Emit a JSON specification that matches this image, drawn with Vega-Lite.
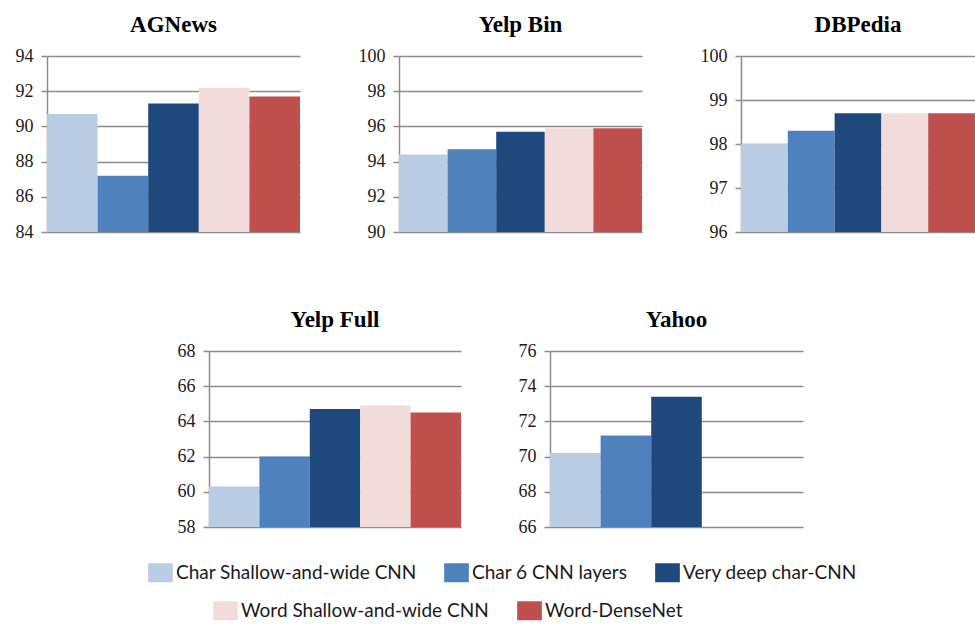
{
  "$schema": "https://vega.github.io/schema/vega-lite/v6.json",
  "padding": {"left": 15, "top": 14, "right": 0, "bottom": 0},
  "background": "white",
  "data": {"values": [
    {"dataset": "AGNews", "model": "Char Shallow-and-wide CNN", "group": "char", "acc": 90.7},
    {"dataset": "AGNews", "model": "Char 6 CNN layers", "group": "char", "acc": 87.2},
    {"dataset": "AGNews", "model": "Very deep char-CNN", "group": "char", "acc": 91.3},
    {"dataset": "AGNews", "model": "Word Shallow-and-wide CNN", "group": "word", "acc": 92.2},
    {"dataset": "AGNews", "model": "Word-DenseNet", "group": "word", "acc": 91.7},
    {"dataset": "Yelp Bin", "model": "Char Shallow-and-wide CNN", "group": "char", "acc": 94.4},
    {"dataset": "Yelp Bin", "model": "Char 6 CNN layers", "group": "char", "acc": 94.7},
    {"dataset": "Yelp Bin", "model": "Very deep char-CNN", "group": "char", "acc": 95.7},
    {"dataset": "Yelp Bin", "model": "Word Shallow-and-wide CNN", "group": "word", "acc": 95.9},
    {"dataset": "Yelp Bin", "model": "Word-DenseNet", "group": "word", "acc": 95.9},
    {"dataset": "DBPedia", "model": "Char Shallow-and-wide CNN", "group": "char", "acc": 98.0},
    {"dataset": "DBPedia", "model": "Char 6 CNN layers", "group": "char", "acc": 98.3},
    {"dataset": "DBPedia", "model": "Very deep char-CNN", "group": "char", "acc": 98.7},
    {"dataset": "DBPedia", "model": "Word Shallow-and-wide CNN", "group": "word", "acc": 98.7},
    {"dataset": "DBPedia", "model": "Word-DenseNet", "group": "word", "acc": 98.7},
    {"dataset": "Yelp Full", "model": "Char Shallow-and-wide CNN", "group": "char", "acc": 60.3},
    {"dataset": "Yelp Full", "model": "Char 6 CNN layers", "group": "char", "acc": 62.0},
    {"dataset": "Yelp Full", "model": "Very deep char-CNN", "group": "char", "acc": 64.7},
    {"dataset": "Yelp Full", "model": "Word Shallow-and-wide CNN", "group": "word", "acc": 64.9},
    {"dataset": "Yelp Full", "model": "Word-DenseNet", "group": "word", "acc": 64.5},
    {"dataset": "Yahoo", "model": "Char Shallow-and-wide CNN", "group": "char", "acc": 70.2},
    {"dataset": "Yahoo", "model": "Char 6 CNN layers", "group": "char", "acc": 71.2},
    {"dataset": "Yahoo", "model": "Very deep char-CNN", "group": "char", "acc": 73.4}
  ]},
  "config": {
    "view": {"stroke": null},
    "axis": {"domainColor": "#8c8c8c", "gridColor": "#8c8c8c", "tickColor": "#8c8c8c", "gridWidth": 1.5, "domainWidth": 1.5, "tickWidth": 1.5, "labelFont": "Liberation Serif", "labelFontSize": 18, "labelColor": "#1a1a1a", "tickSize": 6, "labelPadding": 8},
    "title": {"font": "Liberation Serif", "fontSize": 23, "fontWeight": "bold", "color": "#000000", "anchor": "middle", "offset": 10},
    "legend": {"labelFont": "Lato", "labelFontSize": 19, "labelLimit": 0, "labelColor": "#1a1a1a", "symbolStrokeWidth": 0, "symbolOpacity": 1, "padding": 0}
  },
  "center": true,
  "spacing": 68,
  "vconcat": [
    {
      "bounds": "flush",
      "spacing": 99,
      "hconcat": [
        {
          "title": "AGNews",
          "width": 253, "height": 176,
          "transform": [{"filter": "datum.dataset === 'AGNews'"}],
          "encoding": {
            "x": {"field": "model", "type": "nominal", "scale": {"domain": ["Char Shallow-and-wide CNN", "Char 6 CNN layers", "Very deep char-CNN", "Word Shallow-and-wide CNN", "Word-DenseNet"], "paddingInner": 0, "paddingOuter": 0}, "axis": null},
            "y": {"field": "acc", "type": "quantitative", "scale": {"domain": [84, 94], "nice": false, "zero": false}, "axis": {"values": [84, 86, 88, 90, 92, 94], "title": null}}
          },
          "layer": [
            {"transform": [{"filter": "datum.group === 'char'"}], "mark": {"type": "bar", "clip": true},
             "encoding": {"fill": {"field": "model", "type": "nominal", "scale": {"domain": ["Char Shallow-and-wide CNN", "Char 6 CNN layers", "Very deep char-CNN"], "range": ["#b9cde5", "#4f81bd", "#1f497d"]},
               "legend": {"orient": "none", "legendX": 104, "legendY": 507, "direction": "horizontal", "title": null, "symbolType": "M-1.3,-1H1.3V1H-1.3Z", "symbolSize": 361, "columnPadding": 27, "labelOffset": 6}}}},
            {"transform": [{"filter": "datum.group === 'word'"}], "mark": {"type": "bar", "clip": true},
             "encoding": {"color": {"field": "model", "type": "nominal", "scale": {"domain": ["Word Shallow-and-wide CNN", "Word-DenseNet"], "range": ["#f2dcdb", "#c0504d"]},
               "legend": {"orient": "none", "legendX": 169, "legendY": 545, "direction": "horizontal", "title": null, "symbolType": "M-1.3,-1H1.3V1H-1.3Z", "symbolSize": 361, "columnPadding": 28, "labelOffset": 6}}}}
          ]
        },
        {
          "title": "Yelp Bin",
          "width": 243, "height": 176,
          "transform": [{"filter": "datum.dataset === 'Yelp Bin'"}],
          "encoding": {
            "x": {"field": "model", "type": "nominal", "scale": {"domain": ["Char Shallow-and-wide CNN", "Char 6 CNN layers", "Very deep char-CNN", "Word Shallow-and-wide CNN", "Word-DenseNet"], "paddingInner": 0, "paddingOuter": 0}, "axis": null},
            "y": {"field": "acc", "type": "quantitative", "scale": {"domain": [90, 100], "nice": false, "zero": false}, "axis": {"values": [90, 92, 94, 96, 98, 100], "title": null}}
          },
          "layer": [
            {"transform": [{"filter": "datum.group === 'char'"}], "mark": {"type": "bar", "clip": true},
             "encoding": {"fill": {"field": "model", "type": "nominal", "scale": {"domain": ["Char Shallow-and-wide CNN", "Char 6 CNN layers", "Very deep char-CNN"], "range": ["#b9cde5", "#4f81bd", "#1f497d"]},
               "legend": {"orient": "none", "legendX": 104, "legendY": 507, "direction": "horizontal", "title": null, "symbolType": "M-1.3,-1H1.3V1H-1.3Z", "symbolSize": 361, "columnPadding": 27, "labelOffset": 6}}}},
            {"transform": [{"filter": "datum.group === 'word'"}], "mark": {"type": "bar", "clip": true},
             "encoding": {"color": {"field": "model", "type": "nominal", "scale": {"domain": ["Word Shallow-and-wide CNN", "Word-DenseNet"], "range": ["#f2dcdb", "#c0504d"]},
               "legend": {"orient": "none", "legendX": 169, "legendY": 545, "direction": "horizontal", "title": null, "symbolType": "M-1.3,-1H1.3V1H-1.3Z", "symbolSize": 361, "columnPadding": 28, "labelOffset": 6}}}}
          ]
        },
        {
          "title": "DBPedia",
          "width": 234, "height": 176,
          "transform": [{"filter": "datum.dataset === 'DBPedia'"}],
          "encoding": {
            "x": {"field": "model", "type": "nominal", "scale": {"domain": ["Char Shallow-and-wide CNN", "Char 6 CNN layers", "Very deep char-CNN", "Word Shallow-and-wide CNN", "Word-DenseNet"], "paddingInner": 0, "paddingOuter": 0}, "axis": null},
            "y": {"field": "acc", "type": "quantitative", "scale": {"domain": [96, 100], "nice": false, "zero": false}, "axis": {"values": [96, 97, 98, 99, 100], "title": null}}
          },
          "layer": [
            {"transform": [{"filter": "datum.group === 'char'"}], "mark": {"type": "bar", "clip": true},
             "encoding": {"fill": {"field": "model", "type": "nominal", "scale": {"domain": ["Char Shallow-and-wide CNN", "Char 6 CNN layers", "Very deep char-CNN"], "range": ["#b9cde5", "#4f81bd", "#1f497d"]},
               "legend": {"orient": "none", "legendX": 104, "legendY": 507, "direction": "horizontal", "title": null, "symbolType": "M-1.3,-1H1.3V1H-1.3Z", "symbolSize": 361, "columnPadding": 27, "labelOffset": 6}}}},
            {"transform": [{"filter": "datum.group === 'word'"}], "mark": {"type": "bar", "clip": true},
             "encoding": {"color": {"field": "model", "type": "nominal", "scale": {"domain": ["Word Shallow-and-wide CNN", "Word-DenseNet"], "range": ["#f2dcdb", "#c0504d"]},
               "legend": {"orient": "none", "legendX": 169, "legendY": 545, "direction": "horizontal", "title": null, "symbolType": "M-1.3,-1H1.3V1H-1.3Z", "symbolSize": 361, "columnPadding": 28, "labelOffset": 6}}}}
          ]
        }
      ]
    },
    {
      "bounds": "flush",
      "spacing": 89,
      "hconcat": [
        {
          "title": "Yelp Full",
          "width": 252, "height": 176,
          "transform": [{"filter": "datum.dataset === 'Yelp Full'"}],
          "encoding": {
            "x": {"field": "model", "type": "nominal", "scale": {"domain": ["Char Shallow-and-wide CNN", "Char 6 CNN layers", "Very deep char-CNN", "Word Shallow-and-wide CNN", "Word-DenseNet"], "paddingInner": 0, "paddingOuter": 0}, "axis": null},
            "y": {"field": "acc", "type": "quantitative", "scale": {"domain": [58, 68], "nice": false, "zero": false}, "axis": {"values": [58, 60, 62, 64, 66, 68], "title": null}}
          },
          "layer": [
            {"transform": [{"filter": "datum.group === 'char'"}], "mark": {"type": "bar", "clip": true},
             "encoding": {"fill": {"field": "model", "type": "nominal", "scale": {"domain": ["Char Shallow-and-wide CNN", "Char 6 CNN layers", "Very deep char-CNN"], "range": ["#b9cde5", "#4f81bd", "#1f497d"]},
               "legend": {"orient": "none", "legendX": 104, "legendY": 507, "direction": "horizontal", "title": null, "symbolType": "M-1.3,-1H1.3V1H-1.3Z", "symbolSize": 361, "columnPadding": 27, "labelOffset": 6}}}},
            {"transform": [{"filter": "datum.group === 'word'"}], "mark": {"type": "bar", "clip": true},
             "encoding": {"color": {"field": "model", "type": "nominal", "scale": {"domain": ["Word Shallow-and-wide CNN", "Word-DenseNet"], "range": ["#f2dcdb", "#c0504d"]},
               "legend": {"orient": "none", "legendX": 169, "legendY": 545, "direction": "horizontal", "title": null, "symbolType": "M-1.3,-1H1.3V1H-1.3Z", "symbolSize": 361, "columnPadding": 28, "labelOffset": 6}}}}
          ]
        },
        {
          "title": "Yahoo",
          "width": 253, "height": 176,
          "transform": [{"filter": "datum.dataset === 'Yahoo'"}],
          "encoding": {
            "x": {"field": "model", "type": "nominal", "scale": {"domain": ["Char Shallow-and-wide CNN", "Char 6 CNN layers", "Very deep char-CNN", "Word Shallow-and-wide CNN", "Word-DenseNet"], "paddingInner": 0, "paddingOuter": 0}, "axis": null},
            "y": {"field": "acc", "type": "quantitative", "scale": {"domain": [66, 76], "nice": false, "zero": false}, "axis": {"values": [66, 68, 70, 72, 74, 76], "title": null}}
          },
          "resolve": {"axis": {"y": "independent"}},
          "layer": [
            {"transform": [{"filter": "datum.group === 'char'"}], "mark": {"type": "bar", "clip": true},
             "encoding": {"fill": {"field": "model", "type": "nominal", "scale": {"domain": ["Char Shallow-and-wide CNN", "Char 6 CNN layers", "Very deep char-CNN"], "range": ["#b9cde5", "#4f81bd", "#1f497d"]},
               "legend": {"orient": "none", "legendX": 104, "legendY": 507, "direction": "horizontal", "title": null, "symbolType": "M-1.3,-1H1.3V1H-1.3Z", "symbolSize": 361, "columnPadding": 27, "labelOffset": 6}}}},
            {"transform": [{"filter": "datum.group === 'word'"}], "mark": {"type": "bar", "clip": true},
             "encoding": {
               "y": {"field": "acc", "type": "quantitative", "axis": {"orient": "right", "values": [66], "title": null, "grid": false, "domain": false, "ticks": false, "tickSize": 0, "labelPadding": 2, "labelFontSize": 8, "labelOpacity": 0}},
               "color": {"field": "model", "type": "nominal", "scale": {"domain": ["Word Shallow-and-wide CNN", "Word-DenseNet"], "range": ["#f2dcdb", "#c0504d"]},
               "legend": {"orient": "none", "legendX": 169, "legendY": 545, "direction": "horizontal", "title": null, "symbolType": "M-1.3,-1H1.3V1H-1.3Z", "symbolSize": 361, "columnPadding": 28, "labelOffset": 6}}}}
          ]
        }
      ]
    }
  ]
}
